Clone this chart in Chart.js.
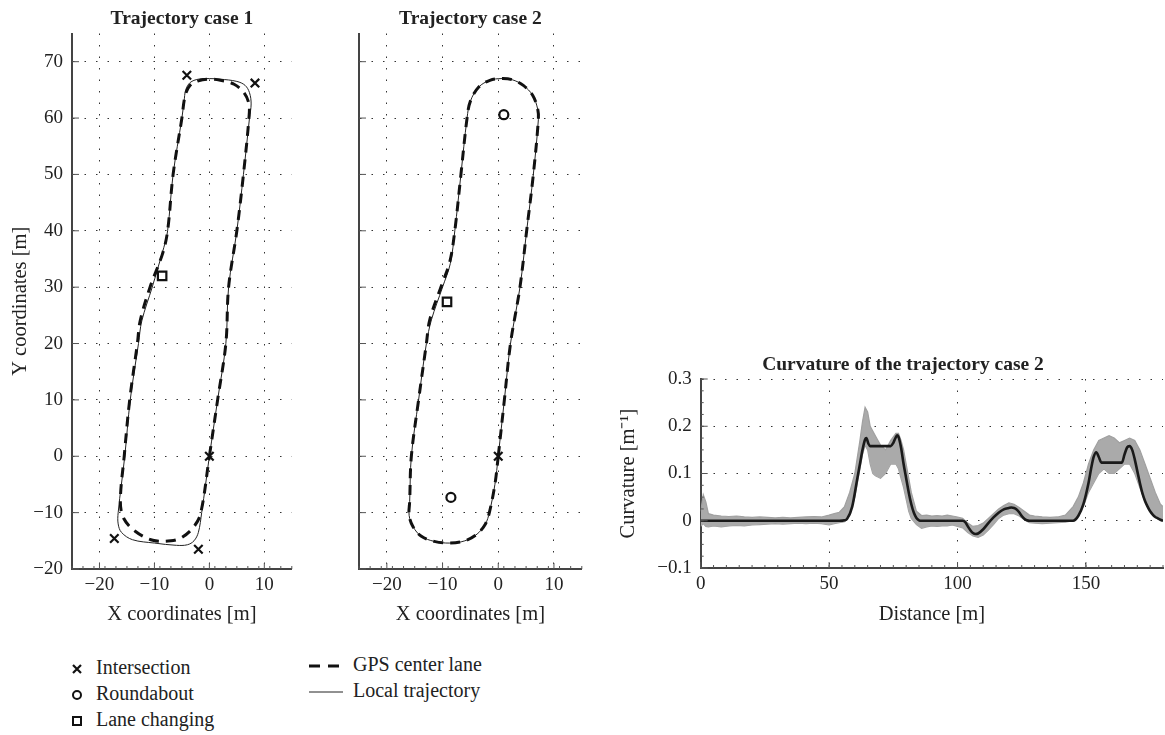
<!DOCTYPE html>
<html>
<head>
<meta charset="utf-8">
<script src="https://cdn.jsdelivr.net/npm/chart.js@4.4.0/dist/chart.umd.min.js"></script>
<style>
  html, body { margin: 0; padding: 0; background: #fff; width: 1165px; height: 735px; overflow: hidden; }
  canvas { position: absolute; }
  .lg { position: absolute; font-family: "Liberation Serif", serif; font-size: 20px; color: #222; line-height: 26px; }
  .lg div { height: 26px; white-space: nowrap; }
  .lg svg { vertical-align: middle; margin-right: 12px; }
</style>
</head>
<body>
<canvas id="c1" width="300" height="640" style="left:0;top:0"></canvas>
<canvas id="c2" width="290" height="640" style="left:300px;top:0"></canvas>
<canvas id="c3" width="606" height="290" style="left:600px;top:350px"></canvas>

<div class="lg" style="left:70px;top:654px">
  <div><svg width="14" height="14"><path d="M3 3L11 11M11 3L3 11" stroke="#111" stroke-width="2.2"/></svg>Intersection</div>
  <div><svg width="14" height="14"><circle cx="7" cy="7" r="4" fill="none" stroke="#111" stroke-width="2"/></svg>Roundabout</div>
  <div><svg width="14" height="14"><rect x="3" y="3" width="8" height="8" fill="none" stroke="#111" stroke-width="2"/></svg>Lane changing</div>
</div>
<div class="lg" style="left:308px;top:651px">
  <div><svg width="36" height="14" style="margin-right:9px"><path d="M1 7H35" stroke="#111" stroke-width="3" stroke-dasharray="11 8"/></svg>GPS center lane</div>
  <div><svg width="36" height="14" style="margin-right:9px"><path d="M1 7H35" stroke="#222" stroke-width="1"/></svg>Local trajectory</div>
</div>

<script>
// ---- trajectory case 1 ----
var c1LocalX = [0, 1.5, 3.0, 3.5, 5.0, 6.2, 7.3, 7.6, 7.3, 6.5, 5.0, 2.0, 0, -2.0, -3.5, -4.3, -4.6, -5.0, -6.6, -7.6, -8.3, -9.5, -10.4, -12.3, -12.9, -14.4, -15.4, -16.6, -16.6, -16.0, -14.0, -10.0, -6.0, -4.0, -2.8, -2.0, -1.4, 0]
var c1LocalY = [0, 10, 20, 30, 40, 50, 60, 62.5, 64.5, 65.8, 66.5, 66.9, 67, 66.9, 66.3, 65, 63, 60, 50, 40, 37, 33, 30, 24, 20, 10, 0, -10, -12, -13.5, -14.8, -15.4, -15.8, -15.7, -15, -13.5, -10, 0]
var c1GpsX = [0, 1.5, 3.0, 3.5, 5.0, 6.2, 7.2, 7.2, 6.3, 4.5, 2.0, 0, -2.0, -3.5, -4.4, -5.0, -6.6, -7.6, -8.5, -10.8, -12.6, -13.1, -14.5, -15.5, -16.2, -15.6, -13.5, -10.3, -7.0, -5.0, -2.9, -1.6, 0]
var c1GpsY = [0, 10, 20, 30, 40, 50, 60, 62.5, 64.5, 66, 66.7, 66.9, 66.6, 65.8, 64, 60, 50, 40, 36, 30, 24, 20, 10, 0, -8, -11, -13.3, -14.9, -15, -14.4, -12.6, -10.2, 0]
var c1InterX = [-4.1, 8.3, 0, -17.3, -2.0]
var c1InterY = [67.6, 66.2, 0, -14.6, -16.5]
var c1LaneX = [-8.6]
var c1LaneY = [32]

// ---- trajectory case 2 ----
var c2LocalX = [0, 1.1, 2.2, 3.9, 5.1, 6.3, 7.2, 7.1, 6.2, 4.5, 2.5, 0.5, -1.5, -3.5, -5.0, -5.6, -6.7, -7.8, -8.6, -10.0, -12.0, -12.9, -14.3, -15.6, -15.9, -16.0, -15.3, -13.8, -11.5, -8.7, -6.0, -3.8, -2.3, -1.6, -0.6, 0]
var c2LocalY = [0, 10, 20, 30, 40, 50, 59.7, 61.5, 64, 65.8, 66.8, 67, 66.7, 65.5, 63, 60, 50, 40, 34.2, 30, 24.2, 20, 10, 0, -8, -10.5, -12.5, -14.2, -15.1, -15.4, -15.0, -13.8, -12, -10, -5, 0]
var c2GpsX = [0, 1.1, 2.2, 3.9, 5.1, 6.3, 7.2, 7.1, 6.2, 4.5, 2.5, 0.5, -1.5, -3.5, -5.0, -5.6, -6.7, -7.8, -8.7, -10.3, -12.3, -12.9, -14.3, -15.6, -15.9, -16.0, -15.3, -13.8, -11.5, -8.7, -6.0, -3.8, -2.3, -1.6, -0.6, 0]
var c2GpsY = [0, 10, 20, 30, 40, 50, 59.7, 61.5, 64, 65.8, 66.8, 67, 66.7, 65.5, 63, 60, 50, 40, 34.5, 30, 24.2, 20, 10, 0, -8, -10.5, -12.5, -14.2, -15.1, -15.4, -15.0, -13.8, -12, -10, -5, 0]
var c2InterX = [0]
var c2InterY = [0]
var c2RoundX = [1.0, -8.5]
var c2RoundY = [60.6, -7.3]
var c2LaneX = [-9.2]
var c2LaneY = [27.4]

var trajXTicks = [-20, -10, 0, 10]
var trajYTicks = [-20, -10, 0, 10, 20, 30, 40, 50, 60, 70]

// ---- curvature of trajectory case 2 ----
var refDist = [0, 54, 56, 57, 59, 61, 62, 63, 64, 64.5, 65.3, 66, 68, 72, 74, 75, 76, 76.5, 77, 78, 79, 80, 81, 82, 83, 84, 85, 86, 102, 103, 104, 105, 106, 107, 108, 110, 112, 114, 116, 118, 120, 121, 122, 123, 124, 125, 126, 127, 128, 145, 147, 149, 151, 152, 153, 154, 155, 156, 164, 165, 166, 167, 168, 169, 170, 171, 172, 173, 174, 175, 176, 177, 178, 179, 180]
var refCurv = [0, 0, 0.001, 0.004, 0.03, 0.09, 0.12, 0.15, 0.172, 0.175, 0.163, 0.158, 0.158, 0.158, 0.158, 0.165, 0.177, 0.181, 0.178, 0.155, 0.12, 0.09, 0.06, 0.035, 0.017, 0.006, 0.001, 0, 0, -0.003, -0.012, -0.02, -0.026, -0.028, -0.027, -0.018, -0.005, 0.007, 0.017, 0.024, 0.027, 0.028, 0.027, 0.024, 0.018, 0.01, 0.004, 0.001, 0, 0, 0.01, 0.035, 0.08, 0.11, 0.135, 0.145, 0.135, 0.123, 0.123, 0.14, 0.155, 0.158, 0.15, 0.13, 0.105, 0.08, 0.058, 0.042, 0.03, 0.02, 0.013, 0.008, 0.005, 0.002, 0]
var runDist = [0, 1, 2, 3, 5, 8, 11, 14, 17, 20, 23, 26, 29, 32, 35, 38, 41, 44, 47, 50, 52, 54, 56, 58, 60, 62, 63, 64, 65, 66, 67, 68, 70, 72, 74, 76, 77, 78, 79, 80, 81, 82, 84, 86, 88, 90, 92, 94, 96, 98, 100, 102, 104, 106, 108, 110, 112, 114, 116, 118, 120, 122, 124, 126, 128, 130, 133, 136, 139, 142, 145, 147, 149, 151, 153, 155, 157, 159, 161, 163, 165, 167, 169, 171, 173, 175, 177, 179, 180]
var runUpper = [0.02, 0.055, 0.04, 0.015, 0.012, 0.01, 0.009, 0.01, 0.008, 0.007, 0.008, 0.007, 0.006, 0.007, 0.006, 0.007, 0.008, 0.009, 0.008, 0.012, 0.015, 0.018, 0.03, 0.06, 0.1, 0.17, 0.21, 0.24, 0.23, 0.2, 0.19, 0.18, 0.16, 0.15, 0.17, 0.185, 0.185, 0.17, 0.15, 0.12, 0.09, 0.06, 0.02, 0.011, 0.012, 0.01, 0.011, 0.01, 0.012, 0.01, 0.008, 0.005, -0.005, -0.012, -0.01, -0.005, 0.005, 0.015, 0.025, 0.032, 0.038, 0.035, 0.028, 0.02, 0.012, 0.01, 0.008, 0.007, 0.008, 0.012, 0.03, 0.05, 0.08, 0.12, 0.15, 0.17, 0.175, 0.18, 0.175, 0.165, 0.17, 0.175, 0.17, 0.15, 0.12, 0.09, 0.06, 0.035, 0.03]
var runLower = [-0.012, -0.006, -0.012, -0.013, -0.011, -0.013, -0.011, -0.01, -0.011, -0.009, -0.008, -0.007, -0.006, -0.007, -0.006, -0.005, -0.006, -0.005, -0.006, -0.009, -0.006, -0.004, -0.002, 0.01, 0.05, 0.11, 0.14, 0.16, 0.15, 0.12, 0.1, 0.095, 0.09, 0.1, 0.12, 0.12, 0.11, 0.09, 0.07, 0.045, 0.02, 0.005, -0.008, -0.016, -0.013, -0.011, -0.012, -0.011, -0.011, -0.009, -0.012, -0.015, -0.025, -0.032, -0.035, -0.03, -0.02, -0.008, 0.005, 0.012, 0.015, 0.015, 0.01, 0.002, -0.004, -0.005, -0.006, -0.005, -0.004, -0.003, 0, 0.01, 0.03, 0.06, 0.08, 0.1, 0.11, 0.1, 0.1, 0.11, 0.12, 0.12, 0.1, 0.07, 0.04, 0.02, 0.01, 0, 0]
var curvXTicks = [0, 50, 100, 150]
var curvYTicks = [-0.1, 0, 0.1, 0.2, 0.3]

var serif = '"Liberation Serif", "Times New Roman", serif'
var ink = '#222'

function pts(xs, ys) {
  return xs.map(function (x, i) { return { x: x, y: ys[i] } })
}
function fmt(v) {
  return v < 0 ? '\u2212' + Math.abs(v) : String(v)
}

// inward major ticks + minor ticks, drawn from the scales
var innerTicks = {
  id: 'innerTicks',
  afterDraw: function (chart, args, o) {
    var ctx = chart.ctx, a = chart.chartArea
    var sx = chart.scales.x, sy = chart.scales.y
    ctx.save()
    ctx.strokeStyle = '#555'
    ctx.lineWidth = 1
    function seg(x1, y1, x2, y2) { ctx.beginPath(); ctx.moveTo(x1, y1); ctx.lineTo(x2, y2); ctx.stroke() }
    sx.ticks.forEach(function (t) { var p = sx.getPixelForValue(t.value); seg(p, a.bottom, p, a.bottom - 6) })
    sy.ticks.forEach(function (t) { var p = sy.getPixelForValue(t.value); seg(a.left, p, a.left + 7, p) })
    if (o.xMinor) {
      for (var v = sx.min; v <= sx.max + 1e-9; v += o.xMinor) { var p = sx.getPixelForValue(v); seg(p, a.bottom, p, a.bottom - 3) }
    }
    if (o.yMinor) {
      for (var w = sy.min; w <= sy.max + 1e-9; w += o.yMinor) { var q = sy.getPixelForValue(w); seg(a.left, q, a.left + 3, q) }
    }
    ctx.restore()
  }
}

function axis(opts) {
  return {
    type: 'linear',
    position: opts.pos,
    min: opts.min,
    max: opts.max,
    afterBuildTicks: function (s) { s.ticks = opts.ticks.map(function (v) { return { value: v } }) },
    afterFit: function (s) { if (opts.pos === 'left') s.width = opts.size; else s.height = opts.size },
    border: { display: true, color: '#444', width: 2, dash: [1.5, 10] },
    grid: { color: '#333', lineWidth: 1, drawTicks: false },
    ticks: {
      display: opts.labels !== false,
      color: ink,
      padding: opts.pos === 'left' ? 9 : 5,
      font: { family: serif, size: 19 },
      callback: function (v) { return fmt(v) }
    },
    title: {
      display: !!opts.title,
      text: opts.title,
      color: ink,
      font: { family: serif, size: 20.5 },
      padding: opts.pos === 'left' ? { top: opts.tpad, bottom: 0 } : { top: 0, bottom: opts.tpad }
    }
  }
}

function trajChart(id, title, sets, yLabels, yWidth, padRight) {
  return new Chart(document.getElementById(id), {
    type: 'scatter',
    data: { datasets: sets },
    options: {
      responsive: false,
      animation: false,
      events: [],
      layout: { padding: { left: 0, right: padRight, top: 0, bottom: 0 } },
      scales: {
        x: axis({ pos: 'bottom', min: -25, max: 15, ticks: trajXTicks, size: 71, title: 'X coordinates [m]', tpad: 13 }),
        y: axis({ pos: 'left', min: -20, max: 75, ticks: trajYTicks, size: yWidth, labels: yLabels, title: yLabels ? 'Y coordinates [m]' : '', tpad: 8 })
      },
      plugins: {
        legend: { display: false },
        tooltip: { enabled: false },
        title: {
          display: true, text: title, color: ink, fullSize: false,
          font: { family: serif, size: 19.5, weight: 'bold' },
          padding: { top: 7, bottom: 3.1 }
        },
        innerTicks: { xMinor: 2 }
      }
    },
    plugins: [innerTicks]
  })
}

function markers(xs, ys, style, r) {
  return { data: pts(xs, ys), pointStyle: style, pointRadius: r, borderColor: '#111', backgroundColor: 'rgba(0,0,0,0)', pointBorderWidth: 2.2, showLine: false }
}
function gpsLine(xs, ys) {
  return { data: pts(xs, ys), showLine: true, pointRadius: 0, borderColor: '#111', borderWidth: 3, borderDash: [10, 7], tension: 0.35 }
}
function localLine(xs, ys) {
  return { data: pts(xs, ys), showLine: true, pointRadius: 0, borderColor: '#222', borderWidth: 1, tension: 0.35 }
}

// first dataset is drawn on top
trajChart('c1', 'Trajectory case 1', [
  markers(c1InterX, c1InterY, 'crossRot', 6),
  markers(c1LaneX, c1LaneY, 'rect', 6),
  gpsLine(c1GpsX, c1GpsY),
  localLine(c1LocalX, c1LocalY)
], true, 72, 2)

trajChart('c2', 'Trajectory case 2', [
  markers(c2InterX, c2InterY, 'crossRot', 6),
  markers(c2RoundX, c2RoundY, 'circle', 4.5),
  markers(c2LaneX, c2LaneY, 'rect', 6),
  gpsLine(c2GpsX, c2GpsY),
  localLine(c2LocalX, c2LocalY)
], false, 59, 4)

var grey = 'rgb(170,170,170)'
new Chart(document.getElementById('c3'), {
  type: 'scatter',
  data: {
    datasets: [
      { data: pts(refDist, refCurv), showLine: true, pointRadius: 0, borderColor: '#1a1a1a', borderWidth: 2.6, cubicInterpolationMode: 'monotone' },
      { data: pts(runDist, runUpper), showLine: true, pointRadius: 0, borderColor: 'rgb(160,160,160)', borderWidth: 1.2, backgroundColor: grey, fill: '+1', tension: 0 },
      { data: pts(runDist, runLower), showLine: true, pointRadius: 0, borderColor: 'rgb(160,160,160)', borderWidth: 1.2, tension: 0 }
    ]
  },
  options: {
    responsive: false,
    animation: false,
    events: [],
    layout: { padding: 0 },
    scales: {
      x: axis({ pos: 'bottom', min: 0, max: 180, ticks: curvXTicks, size: 72, title: 'Distance [m]', tpad: 13 }),
      y: axis({ pos: 'left', min: -0.1, max: 0.3, ticks: curvYTicks, size: 100.7, title: 'Curvature [m\u207B\u00B9]', tpad: 16 }),
      // empty spacer on the right so the full-width title centres like the original
      spacer: { type: 'linear', position: 'right', afterFit: function (s) { s.width = 43 }, grid: { display: false }, border: { display: false }, ticks: { display: false } }
    },
    plugins: {
      legend: { display: false },
      tooltip: { enabled: false },
      title: {
        display: true, text: 'Curvature of the trajectory case 2', color: ink,
        font: { family: serif, size: 19.5, weight: 'bold' },
        padding: { top: 3, bottom: 2.6 }
      },
      innerTicks: { xMinor: 5, yMinor: 0.025 }
    }
  },
  plugins: [innerTicks]
})
</script>
</body>
</html>
